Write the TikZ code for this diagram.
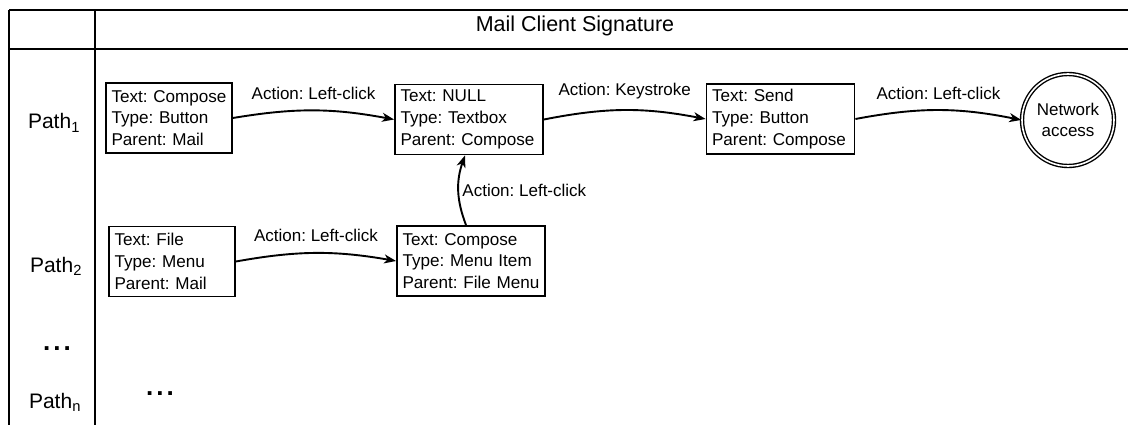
\documentclass[tikz,border=0pt]{standalone}
\usepackage{fontspec}
\setmainfont{Liberation Sans}
\usetikzlibrary{arrows.meta,shapes.geometric}
\newcommand{\threelines}[3]{\mbox{#1}\\\mbox{#2}\\\mbox{#3}}
\frenchspacing
\begin{document}
\begin{tikzpicture}[x=1pt,y=-1pt,
  box/.style={draw, line width=1.8pt, align=left, inner xsep=5.5pt, inner ysep=0pt,
              minimum height=70pt, font=\fontsize{17.1}{21.7}\selectfont\frenchspacing},
  smallbox/.style={box, text width=115pt},
  widebox/.style={box, text width=137pt},
  conn/.style={line width=1.9pt, -{Stealth[length=12pt,width=9pt,inset=3.5pt]}},
  lbl/.style={font=\fontsize{17}{20}\selectfont\frenchspacing, inner sep=2pt},
  grid/.style={line width=2pt},
  pathlbl/.style={font=\fontsize{21}{24}\selectfont, anchor=base, inner sep=0pt},
  dotslbl/.style={font=\fontsize{26}{28}\selectfont\bfseries, inner sep=0pt}
]
\useasboundingbox (0,0) rectangle (1128,425);

% table frame
\draw[grid] (9,10) -- (1128,10);
\draw[grid] (9,49) -- (1128,49);
\draw[grid] (9,10) -- (9,425);
\draw[grid] (95,10) -- (95,425);

\node[anchor=base, font=\fontsize{21.5}{24}\selectfont, inner sep=0pt] (title) at (575,32) {Mail Client Signature};

% row labels
\node[pathlbl] (p1) at (54,129) {Path\textsubscript{1}};
\node[pathlbl] (p2) at (56,272) {Path\textsubscript{2}};
\node[dotslbl] (vd) at (57,349) {.\hspace{3pt}.\hspace{3pt}.};
\node[pathlbl] (pn) at (55,408) {Path\textsubscript{n}};
\node[dotslbl] (hd) at (160,394) {.\hspace{3pt}.\hspace{3pt}.};

% boxes
\node[smallbox] (a) at (169,118) {\threelines{Text: Compose}{Type: Button}{Parent: Mail}};
\node[widebox] (b) at (469,119.5) {\threelines{Text: NULL}{Type: Textbox}{Parent: Compose}};
\node[widebox] (c) at (780.5,119) {\threelines{Text: Send}{Type: Button}{Parent: Compose}};
\node[smallbox] (d) at (172,261.5) {\threelines{Text: File}{Type: Menu}{Parent: Mail}};
\node[widebox] (e) at (471,261) {\threelines{Text: Compose}{Type: Menu Item}{Parent: File Menu}};

\node[circle, draw, double, line width=1.4pt, double distance=1.6pt, minimum size=92pt,
      align=center, inner sep=0pt, font=\fontsize{17}{21}\selectfont] (net) at (1068,120) {Network\\access};

% connectors
\draw[conn] (a.east) to[bend left=10] node[lbl, above=8pt] (l1) {Action: Left-click} (b.west);
\draw[conn] (b.east) to[bend left=11] node[lbl, above=8pt] (l2) {Action: Keystroke} (c.west);
\draw[conn] (c.east) to[bend left=11] node[lbl, above=8pt] (l3) {Action: Left-click} (net.west);
\draw[conn] (d.east) to[bend left=10] node[lbl, above=8pt] (l4) {Action: Left-click} (e.west);
\draw[conn] ([xshift=-5pt]e.north) to[bend left=20] node[lbl, right=1pt] (l5) {Action: Left-click} ([xshift=-4pt]b.south);
\end{tikzpicture}
\end{document}
